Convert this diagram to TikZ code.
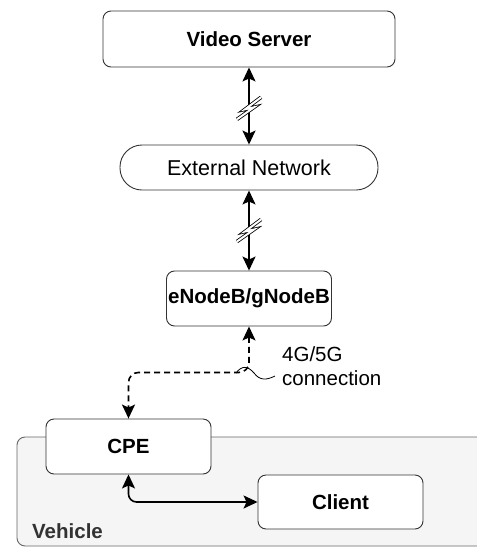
\documentclass[tikz,border=0pt]{standalone}
\usepackage{fontspec}
\setmainfont{Liberation Sans}
\usetikzlibrary{arrows.meta}
\newcommand{\fsz}{\fontsize{20.5}{24}\selectfont}
\begin{document}
\begin{tikzpicture}[x=1pt,y=-1pt,
  box/.style={draw=black!80, line width=0.9pt, rounded corners=8pt, fill=white,
    font=\fsz\bfseries, inner sep=0pt},
  pill/.style={draw=black!80, line width=0.9pt, rounded corners=22pt, fill=white,
    font=\fontsize{21.5}{24}\selectfont, inner sep=0pt},
  conn/.style={line width=1.6pt, {Stealth[length=14pt,width=13pt,inset=3pt]}-{Stealth[length=14pt,width=13pt,inset=3pt]}},
  dconn/.style={line width=1.6pt, dash pattern=on 6pt off 4pt, rounded corners=10pt,
    {Stealth[length=14pt,width=13pt,inset=3pt]}-{Stealth[length=14pt,width=13pt,inset=3pt]}},
  bolt/.style={draw=black, line width=0.8pt, double=white, double distance=2pt, line join=miter},
  group/.style={draw=black!60, fill=black!4, line width=0.9pt, rounded corners=8pt}
]
\clip (0,0) rectangle (477,547);
% vehicle container
\draw[group] (17,437) rectangle (520,546);
\node[anchor=west, font=\fsz\bfseries, text=black!80, inner sep=0pt] (veh) at (32,531) {Vehicle};

% nodes
\node[box, minimum width=292pt, minimum height=56pt] (vs) at (249,39) {Video Server};
\node[pill, minimum width=258pt, minimum height=45pt] (en) at (249,167.5) {External Network};
\node[box, minimum width=165pt, minimum height=55pt] (eb) at (249,298.5) {eNodeB/gNodeB};
\node[box, minimum width=165pt, minimum height=55pt] (cpe) at (128.5,446.5) {CPE};
\node[box, minimum width=165pt, minimum height=54pt] (cl) at (340.5,502) {Client};

% wireless links
\draw[conn] (vs.south) -- (en.north);
\draw[conn] (en.south) -- (eb.north);
\path (vs.south) -- (en.north) coordinate[pos=0.53] (z1);
\path (en.south) -- (eb.north) coordinate[pos=0.5] (z2);
\foreach \z in {z1,z2}{
  \draw[bolt] ([shift={(12,-11)}]\z) -- ([shift={(-4,1)}]\z) -- ([shift={(5,-1)}]\z) -- ([shift={(-12,11)}]\z);
}

% 4G/5G dashed link
\coordinate (bend) at ([yshift=-46pt]eb.south);
\draw[dconn] (eb.south) -- (bend) -| (cpe.north);
\coordinate (w0) at (236,373);
\coordinate (w1) at (275,376);
\draw[line width=0.8pt] (w0) .. controls (242,365) and (248,366) .. (254,373)
  .. controls (260,381) and (267,380) .. (w1);
\node[anchor=north west, align=left, font=\fsz, inner sep=0pt] (lbl) at (282,346) {4G/5G\\connection};

% CPE - client
\draw[conn, rounded corners=8pt] (cpe.south) |- (cl.west);
\end{tikzpicture}
\end{document}
